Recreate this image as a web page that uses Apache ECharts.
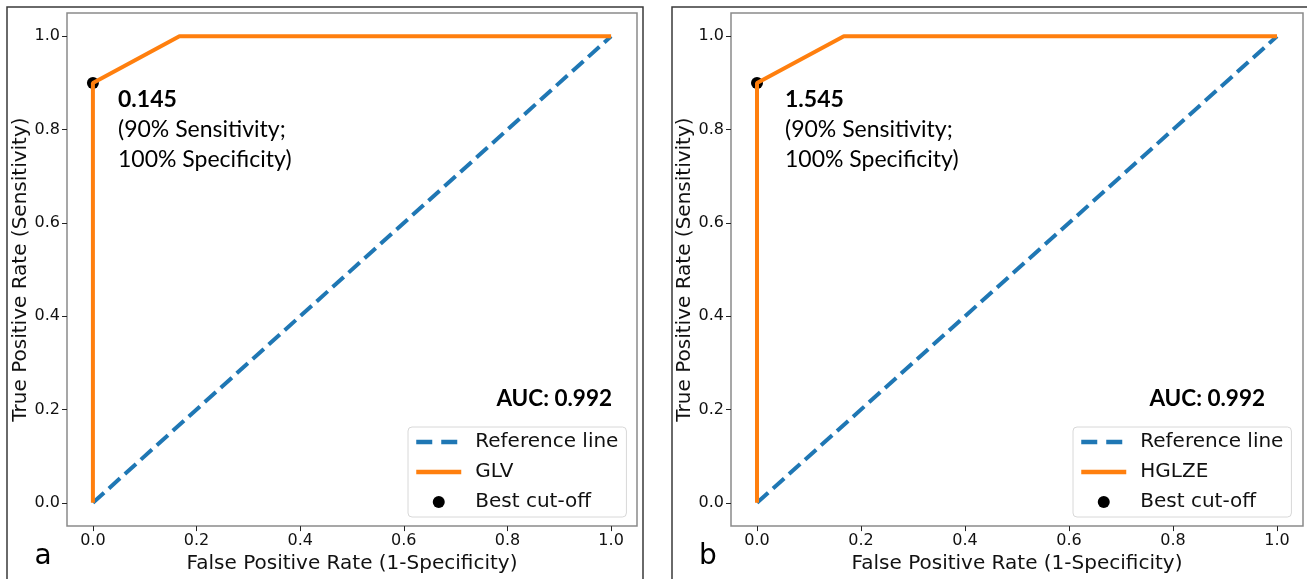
<!DOCTYPE html>
<html><head><meta charset="utf-8">
<script src="https://cdn.jsdelivr.net/npm/echarts@6/dist/echarts.min.js"></script>
<style>html,body{margin:0;padding:0;background:#fff}#c{width:1307px;height:579px}</style>
</head><body><div id="c"></div>
<script>
// ---- data ----
const refX = [0, 1];
const refY = [0, 1];
const rocFPR = [0, 0, 0.167, 1];
const rocTPR = [0, 0.9, 1, 1];
const bestCut = [0, 0.9];
const panelNames = ['GLV', 'HGLZE'];
const cutoffValues = ['0.145', '1.545'];
const aucValues = ['0.992', '0.992'];
const panelLetters = ['a', 'b'];
const tickValues = [0, 0.2, 0.4, 0.6, 0.8, 1.0];
const sensText = '(90% Sensitivity;';
const specText = '100% Specificity)';

const AX = 'DejaVu Sans';
const CAL = 'Lato';
const grids = [
  {left: 67, top: 13, width: 570, height: 519},
  {left: 731, top: 13, width: 572, height: 519}
];
const frames = [{x: 7, y: 7, w: 636}, {x: 672, y: 7, w: 650}];

function zip(a, b) { return a.map((v, i) => [v, b[i]]); }

const axisCommon = {
  type: 'value', min: -0.05, max: 1.05,
  splitLine: {show: false}, axisLine: {show: false, onZero: false},
  axisTick: {show: true, inside: false, customValues: tickValues, length: 5, lineStyle: {color: '#222', width: 1}},
  axisLabel: {customValues: tickValues, formatter: v => v.toFixed(1), fontFamily: AX, fontSize: 16, color: '#111', margin: 7},
  nameLocation: 'middle',
  nameTextStyle: {fontFamily: AX, fontSize: 20, color: '#111'}
};

const option = {
  animation: false,
  backgroundColor: '#fff',
  grid: grids.map(g => Object.assign({show: true, borderColor: '#8a8a8a', borderWidth: 1.5, backgroundColor: 'transparent'}, g)),
  xAxis: grids.map((g, i) => Object.assign({}, axisCommon, {
    gridIndex: i, name: 'False Positive Rate (1-Specificity)', nameGap: 22
  })),
  yAxis: grids.map((g, i) => Object.assign({}, axisCommon, {
    gridIndex: i, name: 'True Positive Rate (Sensitivity)', nameGap: 36
  })),
  legend: grids.map((g, i) => ({
    orient: 'vertical',
    left: i === 0 ? 408 : 1073, top: 427,
    data: [
      {name: 'Reference line', itemStyle: {opacity: 0}, lineStyle: {width: 4.5, type: [16, 9], color: '#1f77b4'}},
      {name: panelNames[i], itemStyle: {opacity: 0}, lineStyle: {width: 4.5, color: '#ff7f0e'}},
      {name: 'Best cut-off'}
    ],
    itemWidth: 45, itemHeight: 12, itemGap: 10,
    padding: [5, 8, 5, 6],
    backgroundColor: '#fff', borderColor: '#d8d8d8', borderWidth: 1, borderRadius: 4,
    selectedMode: false,
    textStyle: {fontFamily: AX, fontSize: 20, color: '#111', lineHeight: 20, padding: [0, 0, 0, 9]}
  })),
  series: [],
  graphic: []
};

grids.forEach((g, i) => {
  option.series.push({
    name: 'Reference line', type: 'line', xAxisIndex: i, yAxisIndex: i,
    data: zip(refX, refY), symbol: 'none', showSymbol: false, z: 2,
    lineStyle: {color: '#1f77b4', width: 4, type: [15, 6.5]}, itemStyle: {color: '#1f77b4'}
  });
  option.series.push({
    name: 'Best cut-off', type: 'scatter', xAxisIndex: i, yAxisIndex: i,
    data: [bestCut], symbol: 'circle', symbolSize: 12, z: 3,
    itemStyle: {color: '#000', opacity: 1}
  });
  option.series.push({
    name: panelNames[i], type: 'line', xAxisIndex: i, yAxisIndex: i,
    data: zip(rocFPR, rocTPR), symbol: 'none', showSymbol: false, z: 4,
    lineStyle: {color: '#ff7f0e', width: 4}, itemStyle: {color: '#ff7f0e'}
  });
  const f = frames[i];
  option.graphic.push({type: 'rect', shape: {x: f.x, y: f.y, width: f.w, height: 600}, style: {fill: 'none', stroke: '#3a3a3a', lineWidth: 1.5}, z: 0, silent: true});
  const ox = i === 0 ? 118 : 785;
  option.graphic.push({type: 'text', x: ox, y: 100, style: {text: cutoffValues[i], fontFamily: CAL, fontWeight: 'bold', fontSize: 23, fill: '#000', verticalAlign: 'middle'}, z: 10});
  option.graphic.push({type: 'text', x: ox, y: 130, style: {text: sensText, fontFamily: CAL, fontSize: 23, fill: '#000', verticalAlign: 'middle'}, z: 10});
  option.graphic.push({type: 'text', x: ox, y: 160, style: {text: specText, fontFamily: CAL, fontSize: 23, fill: '#000', verticalAlign: 'middle'}, z: 10});
  const ax = i === 0 ? 612 : 1265;
  option.graphic.push({type: 'text', x: ax, y: 399, style: {text: 'AUC: ' + aucValues[i], fontFamily: CAL, fontWeight: 'bold', fontSize: 22.5, fill: '#000', align: 'right', verticalAlign: 'middle'}, z: 10});
  option.graphic.push({type: 'text', x: i === 0 ? 43 : 708, y: 557, style: {text: panelLetters[i], fontFamily: AX, fontSize: 28, fill: '#000', align: 'center', verticalAlign: 'middle'}, z: 10});
});

const chart = echarts.init(document.getElementById('c'), null, {renderer: 'canvas'});
chart.setOption(option);
</script></body></html>
